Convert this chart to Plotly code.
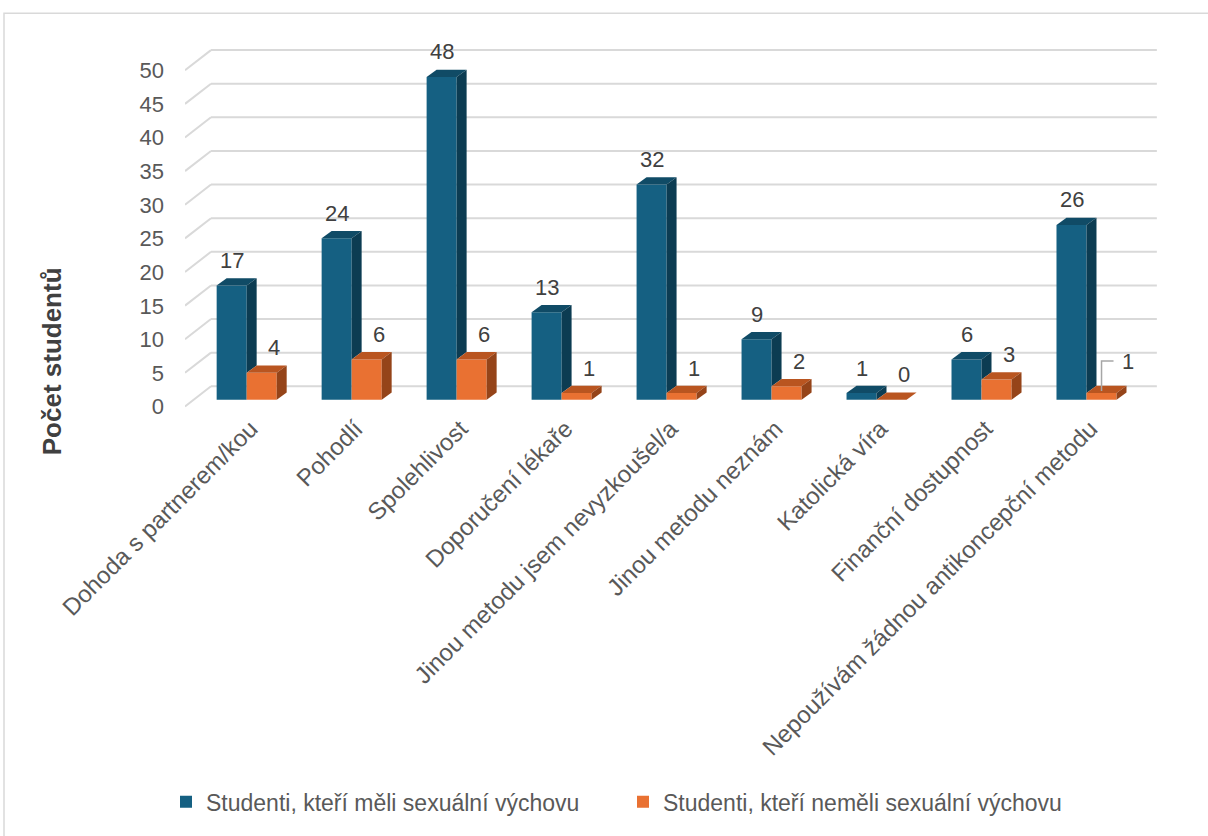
import plotly.graph_objects as go

# Survey data: reasons for choosing a contraception method
categories = [
    "Dohoda s partnerem/kou",
    "Pohodlí",
    "Spolehlivost",
    "Doporučení lékaře",
    "Jinou metodu jsem nevyzkoušel/a",
    "Jinou metodu neznám",
    "Katolická víra",
    "Finanční dostupnost",
    "Nepoužívám žádnou antikoncepční metodu",
]
with_education = [17, 24, 48, 13, 32, 9, 1, 6, 26]
without_education = [4, 6, 6, 1, 1, 2, 0, 3, 1]

series_names = [
    "Studenti, kteří měli sexuální výchovu",
    "Studenti, kteří neměli sexuální výchovu",
]
y_ticks = list(range(0, 55, 5))

# Styling
FRONT = ["#156082", "#E97132"]
TOP = ["#104B66", "#B95520"]
SIDE = ["#0C3C52", "#954419"]
GRID = "#D9D9D9"
FONT = "Liberation Sans, Arial, sans-serif"

BAR_W = 0.286          # bar width in category units
DEPTH_X = 0.095        # bar depth, horizontal (category units)
DEPTH_Y = 1.08         # bar depth, vertical (value units)
FRONT_Y = -1.0         # value shift of the front floor edge
BACK_Y = 2.0           # value shift of the back wall
WALL_X0 = -0.5876      # left wall, front edge
WALL_X1 = -0.34        # left wall, back edge
XRANGE = [-0.5876, 8.70]
YRANGE = [-1.23, 53.5]

x_idx = list(range(len(categories)))

fig = go.Figure()

# Front faces of the columns
for k, vals in enumerate([with_education, without_education]):
    fig.add_trace(go.Bar(
        x=x_idx, y=vals, width=BAR_W,
        offset=-BAR_W if k == 0 else 0,
        marker=dict(color=FRONT[k], line=dict(width=0)),
        name=series_names[k], hoverinfo="skip",
    ))


def face(xs, ys, color):
    fig.add_trace(go.Scatter(
        x=xs, y=ys, mode="lines", fill="toself", fillcolor=color,
        line=dict(width=0, color=color), hoverinfo="skip", showlegend=False,
    ))


# Top and side faces, drawn back-to-front per category
for i in x_idx:
    vb, vo = with_education[i], without_education[i]
    xl, xm, xr = i - BAR_W, i, i + BAR_W
    # blue column
    face([xl, xl + DEPTH_X, xm + DEPTH_X, xm, xl],
         [vb, vb + DEPTH_Y, vb + DEPTH_Y, vb, vb], TOP[0])
    face([xm, xm + DEPTH_X, xm + DEPTH_X, xm, xm],
         [vb, vb + DEPTH_Y, vo + DEPTH_Y, vo, vb], SIDE[0])
    # orange column
    face([xm, xm + DEPTH_X, xr + DEPTH_X, xr, xm],
         [vo, vo + DEPTH_Y, vo + DEPTH_Y, vo, vo], TOP[1])
    face([xr, xr + DEPTH_X, xr + DEPTH_X, xr, xr],
         [vo, vo + DEPTH_Y, DEPTH_Y, 0, vo], SIDE[1])

shapes = []
# Back wall and side wall gridlines
for t in y_ticks:
    shapes.append(dict(type="line", xref="x", yref="y", layer="below",
                       x0=WALL_X1, x1=XRANGE[1] - 0.03, y0=t + BACK_Y, y1=t + BACK_Y,
                       line=dict(color=GRID, width=2)))
    shapes.append(dict(type="line", xref="x", yref="y", layer="below",
                       x0=WALL_X0, x1=WALL_X1, y0=t + FRONT_Y, y1=t + BACK_Y,
                       line=dict(color=GRID, width=2)))

# Chart frame
shapes.append(dict(type="rect", xref="paper", yref="paper",
                   x0=(4 - 185) / 975, x1=1.06, y0=-1.2, y1=(410 - 13) / 370,
                   line=dict(color=GRID, width=1.5), layer="below"))

LABEL_FONT = dict(size=22, color="#404040", family=FONT)
annotations = []
for i in x_idx:
    annotations.append(dict(x=i - BAR_W / 2, y=with_education[i], text=str(with_education[i]),
                            showarrow=False, yshift=25, xanchor="center", yanchor="middle",
                            font=LABEL_FONT))
    last = i == len(categories) - 1
    annotations.append(dict(x=i + BAR_W / 2, y=without_education[i], text=str(without_education[i]),
                            showarrow=False, yshift=32 if last else 25, xshift=26 if last else 12,
                            xanchor="center", yanchor="middle", font=LABEL_FONT))

# Leader line for the moved label of the last orange column
li = len(categories) - 1
shapes.append(dict(type="path", xref="x", yref="y", xsizemode="pixel", ysizemode="pixel",
                   xanchor=li + BAR_W / 2, yanchor=without_education[li],
                   path="M 0,2 L 0,32 L 12,32", line=dict(color="#A6A6A6", width=1.5)))

# Axis title
annotations.append(dict(text="<b>Počet studentů</b>", xref="paper", yref="paper",
                        x=0, y=(410 - 363) / 370, xshift=-133, textangle=-90,
                        showarrow=False, xanchor="center", yanchor="middle",
                        font=dict(size=26, color="#404040", family=FONT)))

fig.update_layout(
    width=1208, height=836,
    margin=dict(l=185, r=48, t=40, b=426),
    paper_bgcolor="white", plot_bgcolor="white",
    barmode="overlay",
    showlegend=True,
    legend=dict(orientation="h", x=(166 - 185) / 975, xanchor="left",
                y=(410 - 806) / 370, yanchor="middle",
                font=dict(size=23, color="#595959", family=FONT),
                itemwidth=30, entrywidth=412, traceorder="normal"),
    shapes=shapes, annotations=annotations,
    font=dict(family=FONT),
    xaxis=dict(range=XRANGE, tickmode="array", tickvals=x_idx, ticktext=categories,
               tickangle=-45, showgrid=False, zeroline=False, showline=False, ticks="",
               tickfont=dict(size=24, color="#595959", family=FONT),
               ticklabelstandoff=1, ticklabelshift=4),
    yaxis=dict(range=YRANGE, tickmode="array", tickvals=y_ticks, showgrid=False,
               zeroline=False, showline=False, ticks="", ticklabelshift=7,
               ticklabelstandoff=20,
               tickfont=dict(size=22, color="#595959", family=FONT)),
)

fig.write_html("out.html")
